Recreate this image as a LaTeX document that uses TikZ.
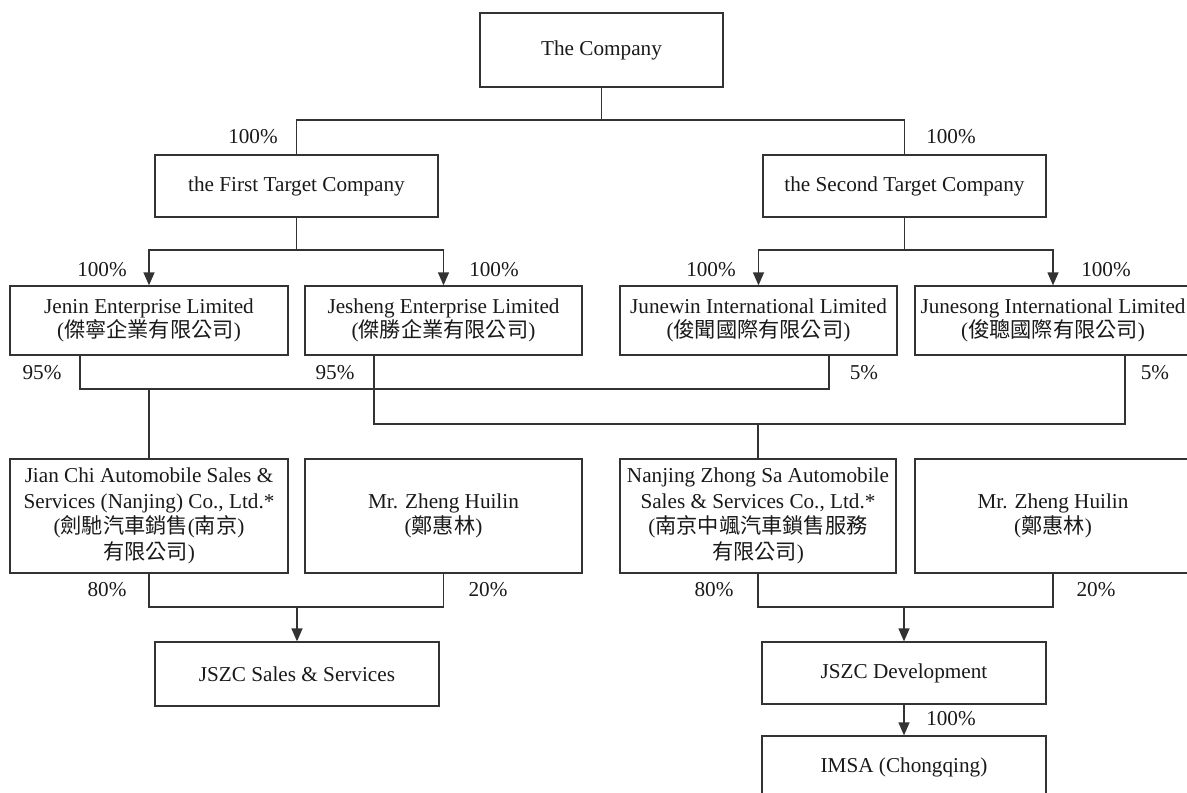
\documentclass[tikz,border=0pt]{standalone}
\usepackage{fontspec}
\setmainfont{Liberation Serif}
\newfontfamily\cjk{Noto Sans CJK TC}
\usetikzlibrary{arrows.meta}
\begin{document}
\begin{tikzpicture}[x=1pt,y=-1pt,
  every node/.style={text=black!90, font=\fontsize{21.2}{24.5}\selectfont},
  orgbox/.style={draw=black!80, line width=1.3pt, align=center, inner sep=0pt},
  tallbox/.style={orgbox, font=\fontsize{21.2}{25.7}\selectfont},
  link/.style={draw=black!80, line width=1.3pt},
  arr/.style={link, -{Triangle[width=11pt,length=13pt]}},
  pct/.style={inner sep=0pt}]
\clip (0,0) rectangle (1187,793);
% boxes
\node[orgbox, minimum width=243pt, minimum height=74pt] (comp) at (601.5,50) {The Company};
\node[orgbox, minimum width=283pt, minimum height=62pt] (t1) at (296.5,186) {the First Target Company};
\node[orgbox, minimum width=283pt, minimum height=62pt] (t2) at (904.5,186) {the Second Target Company};
\node[orgbox, minimum width=278pt, minimum height=69pt] (jenin) at (149,320.5) {Jenin Enterprise Limited\\({\cjk 傑寧企業有限公司})};
\node[orgbox, minimum width=277pt, minimum height=69pt] (jesheng) at (443.5,320.5) {Jesheng Enterprise Limited\\({\cjk 傑勝企業有限公司})};
\node[orgbox, minimum width=277pt, minimum height=69pt] (junewin) at (758.5,320.5) {Junewin International Limited\\({\cjk 俊聞國際有限公司})};
\node[orgbox, minimum width=276pt, minimum height=69pt] (junesong) at (1053,320.5) {Junesong International Limited\\({\cjk 俊聰國際有限公司})};
\node[tallbox, minimum width=278pt, minimum height=114pt] (jianchi) at (149,516) {Jian Chi Automobile Sales \&\\Services (Nanjing) Co., Ltd.*\\({\cjk 劍馳汽車銷售}({\cjk 南京})\\{\cjk 有限公司})};
\node[tallbox, minimum width=277pt, minimum height=114pt] (zheng1) at (443.5,516) {Mr. Zheng Huilin\\({\cjk 鄭惠林})};
\node[tallbox, minimum width=276pt, minimum height=114pt] (nanjing) at (758,516) {Nanjing Zhong Sa Automobile\\Sales \& Services Co., Ltd.*\\({\cjk 南京中颯汽車鎖售服務}\\{\cjk 有限公司})};
\node[tallbox, minimum width=276pt, minimum height=114pt] (zheng2) at (1053,516) {Mr. Zheng Huilin\\({\cjk 鄭惠林})};
\node[orgbox, minimum width=284pt, minimum height=64pt] (jszcss) at (297,674) {JSZC Sales \& Services};
\node[orgbox, minimum width=284pt, minimum height=62pt] (jszcdev) at (904,673) {JSZC Development};
\node[orgbox, minimum width=284pt, minimum height=62pt] (imsa) at (904,767) {IMSA (Chongqing)};
% connectors
\coordinate (j0) at (601.5,120);
\draw[link] (comp.south) -- (j0);
\draw[link] (t1.north) |- (j0) -| (t2.north);
\coordinate (j1) at (296.5,250);
\draw[link] (t1.south) -- (j1);
\draw[arr] (j1) -| (jenin.north);
\draw[arr] (j1) -| (jesheng.north);
\coordinate (j2) at (904.5,250);
\draw[link] (t2.south) -- (j2);
\draw[arr] (j2) -| (junewin.north);
\draw[arr] (j2) -| (junesong.north);
\coordinate (jeninP) at ([xshift=-69pt]jenin.south);
\coordinate (junewinP) at ([xshift=70.5pt]junewin.south);
\coordinate (h1) at (149,389);
\draw[link] (jeninP) |- (h1) -| (junewinP);
\draw[link] (h1) -- (jianchi.north);
\coordinate (jeshengP) at ([xshift=-69.5pt]jesheng.south);
\coordinate (junesongP) at ([xshift=72pt]junesong.south);
\coordinate (h2) at (758,424);
\draw[link] (jeshengP) |- (h2) -| (junesongP);
\draw[link] (h2) -- (nanjing.north);
\coordinate (h3) at (297,607);
\draw[link] (jianchi.south) |- (h3) -| (zheng1.south);
\draw[arr] (h3) -- (jszcss.north);
\coordinate (h4) at (904,607);
\draw[link] (nanjing.south) |- (h4) -| (zheng2.south);
\draw[arr] (h4) -- (jszcdev.north);
\draw[arr] (jszcdev.south) -- (imsa.north);
% percentages
\node[pct] (p1) at (253,137) {100\%};
\node[pct] (p2) at (951,137) {100\%};
\node[pct] (p3) at (102,270) {100\%};
\node[pct] (p4) at (494,270) {100\%};
\node[pct] (p5) at (711,270) {100\%};
\node[pct] (p6) at (1106,270) {100\%};
\node[pct] (p7) at (42,373) {95\%};
\node[pct] (p8) at (335,373) {95\%};
\node[pct] (p9) at (864,373) {5\%};
\node[pct] (p10) at (1155,373) {5\%};
\node[pct] (p11) at (107,590) {80\%};
\node[pct] (p12) at (488,590) {20\%};
\node[pct] (p13) at (714,590) {80\%};
\node[pct] (p14) at (1096,590) {20\%};
\node[pct] (p15) at (951,719) {100\%};
\end{tikzpicture}
\end{document}
